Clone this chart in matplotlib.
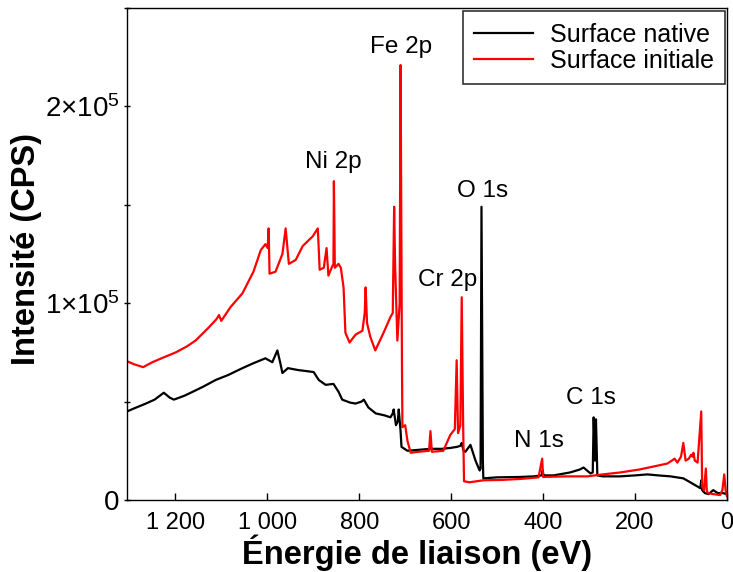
import matplotlib
matplotlib.use("Agg")
import matplotlib.pyplot as plt
from matplotlib.ticker import FuncFormatter, MultipleLocator

plt.rcParams['font.family'] = ['Liberation Sans', 'DejaVu Sans']
plt.rcParams['mathtext.fontset'] = 'custom'
plt.rcParams['mathtext.rm'] = 'Liberation Sans'
plt.rcParams['mathtext.it'] = 'Liberation Sans'

# Surface native (black)
ev_native = [1305, 1290, 1264, 1245, 1225, 1212, 1203, 1180, 1162, 1140, 1112, 1085,
             1054, 1030, 1004, 989, 978, 972, 967, 955, 932, 915, 899, 888, 873, 856,
             845, 837, 820, 808, 795, 790, 780, 764, 745, 732, 727, 725, 720, 716, 714,
             710, 708, 695, 670, 645, 620, 600, 587, 580, 577, 573, 569, 558, 547, 538,
             536, 534, 531, 530, 500, 450, 420, 403, 401, 399, 377, 341, 320, 312, 297,
             292, 290, 287, 285, 282, 270, 232, 200, 173, 150, 123, 95, 80, 69, 58, 56,
             54, 48, 40, 30, 20, 8, 2, 0]
cps_native = [45000, 46500, 49000, 51000, 54500, 52000, 51000, 53000, 55000, 57500, 61000, 63500,
              67000, 69500, 72000, 70000, 76000, 70000, 64500, 67000, 66000, 65500, 65000, 61000, 58500, 59000,
              55000, 51000, 49500, 49000, 50000, 51000, 47000, 44000, 43000, 42000, 44000, 46000, 38000, 40000, 46000,
              35000, 27000, 25000, 25500, 26000, 26000, 26500, 27000, 27500, 29000, 25000, 24500, 28000, 20000, 15000,
              16000, 149000, 20000, 11000, 11500, 11700, 12000, 12500, 15000, 12500, 12500, 14000, 15500, 16500, 13500,
              14000, 42000, 20000, 41000, 12500, 12000, 12000, 12500, 13000, 12500, 12000, 11000, 9000, 7500, 6000, 10000,
              5000, 3500, 3000, 5000, 3500, 3500, 3000, 2500]

# Surface initiale (red)
ev_initiale = [1305, 1290, 1270, 1250, 1230, 1199, 1175, 1156, 1130, 1110, 1105, 1100, 1080,
               1054, 1030, 1014, 1004, 999, 997, 995, 982, 967, 960, 953, 938, 923, 901, 890,
               886, 877, 871, 867, 860, 856, 855, 853, 845, 840, 834, 830, 821, 808, 793, 788,
               786, 783, 776, 765, 747, 732, 727, 724, 722, 717, 712, 710, 707, 706, 700, 695,
               688, 670, 648, 645, 642, 617, 602, 592, 588, 585, 580, 577, 574, 572, 560, 530,
               490, 449, 410, 402, 400, 350, 304, 270, 232, 190, 160, 130, 120, 114, 108, 100,
               95, 90, 83, 78, 75, 73, 70, 64, 56, 54, 50, 46, 44, 42, 30, 15, 10, 6, 3, 0]
cps_initiale = [70500, 69000, 67500, 70000, 72000, 75000, 78000, 81000, 87000, 92000, 94000, 91000, 98000,
                105000, 116000, 127000, 130000, 128000, 138000, 115000, 116000, 125000, 138000, 120000, 122000, 129000, 134000, 138000,
                117000, 118000, 128000, 114000, 118000, 120000, 162000, 118000, 120000, 118000, 108000, 85000, 80000, 84000, 86000, 95000,
                108000, 90000, 83000, 76000, 85000, 93000, 95000, 149000, 120000, 81000, 100000, 221000, 70000, 37000, 38000, 30000,
                24000, 24500, 25000, 35000, 24500, 25000, 33000, 36000, 71000, 34000, 38000, 103000, 40000, 9500, 9000, 10000,
                10200, 10700, 11500, 21000, 11700, 12000, 12000, 13000, 14000, 15500, 17000, 18500, 20000, 21000, 19000, 22000,
                29000, 20000, 21000, 23000, 22000, 24000, 20000, 19000, 45000, 7000, 5000, 16000, 5000, 3500, 3000, 2500, 5000, 13000, 5000, 2000]

# peak labels
peak_names = ["Fe 2p", "Ni 2p", "O 1s", "Cr 2p", "N 1s", "C 1s"]
peak_x = [710, 857, 532, 608, 408, 297]
peak_y = [230000, 172000, 157000, 112000, 30000, 52000]

fig = plt.figure(figsize=(7.33, 5.72), dpi=100)
ax = fig.add_axes([0.1733, 0.1259, 0.8185, 0.8601])

ax.plot(ev_native, cps_native, color="black", lw=1.6, label="Surface native")
ax.plot(ev_initiale, cps_initiale, color="red", lw=1.6, label="Surface initiale")

for name, x, y in zip(peak_names, peak_x, peak_y):
    ax.text(x, y, name, fontsize=17.5, ha="center", va="center")

ax.set_xlim(1305, 0)
ax.set_ylim(0, 250000)
ax.xaxis.set_major_locator(MultipleLocator(200))
ax.yaxis.set_major_locator(MultipleLocator(100000))
ax.yaxis.set_minor_locator(MultipleLocator(50000))

def fmt_x(v, pos):
    return "{:,}".format(int(round(v))).replace(",", " ")

def fmt_y(v, pos):
    if v == 0:
        return "0"
    return r"$%d{\times}10^{5}$" % round(v / 100000)

ax.xaxis.set_major_formatter(FuncFormatter(fmt_x))
ax.yaxis.set_major_formatter(FuncFormatter(fmt_y))
ax.tick_params(axis="x", which="major", direction="in", length=5, width=1, labelsize=17, pad=9)
ax.tick_params(axis="y", which="major", direction="inout", length=5, width=1, labelsize=20, pad=3)
ax.tick_params(axis="y", which="minor", direction="inout", length=5, width=1)
for s in ax.spines.values():
    s.set_linewidth(1)

ax.set_xlabel("Énergie de liaison (eV)", fontsize=23.5, fontweight="bold", labelpad=0, x=0.484)
ax.set_ylabel("Intensité (CPS)", fontsize=23.5, fontweight="bold", labelpad=2, y=0.51)

leg = ax.legend(loc="upper right", bbox_to_anchor=(0.997, 0.993), borderaxespad=0,
                fontsize=18, frameon=True, fancybox=False, edgecolor="black",
                handlelength=2.36, handletextpad=0.68, labelspacing=0.08, borderpad=0.45)
leg.get_frame().set_linewidth(1.2)

fig.savefig("out.png", dpi=100)
